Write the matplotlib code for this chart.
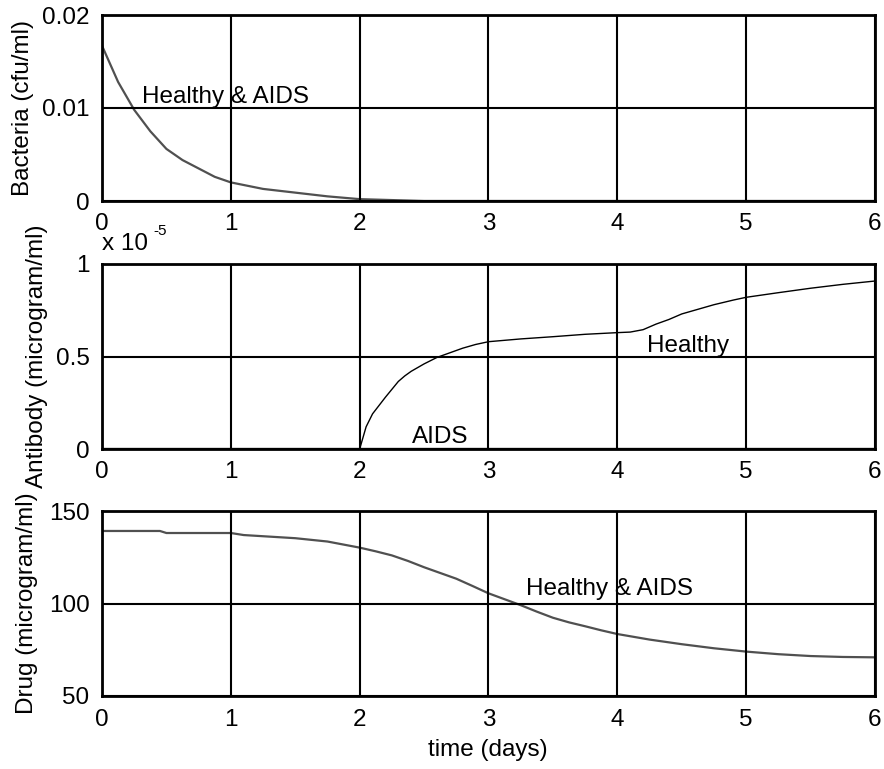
import numpy as np
import matplotlib
matplotlib.use('Agg')
import matplotlib.pyplot as plt

plt.rcParams['font.family'] = ['Liberation Sans', 'DejaVu Sans']

# bacteria (cfu/ml), same for healthy and AIDS
t_bact = [0, 0.125, 0.25, 0.375, 0.5, 0.625, 0.75, 0.875, 1.0, 1.25, 1.5,
          1.75, 2.0, 2.25, 2.5, 6.0]
bacteria = [0.0167, 0.0128, 0.0098, 0.0075, 0.0056, 0.0044, 0.0035, 0.0026,
            0.0020, 0.0013, 0.0009, 0.0005, 0.0002, 0.0001, 0.0, 0.0]

# antibody, in units of 1e-5 microgram/ml
t_ab = [0, 2.0, 2.025, 2.05, 2.1, 2.15, 2.2, 2.3, 2.35, 2.4, 2.45, 2.5, 2.6,
        2.7, 2.8, 2.9, 3.0, 3.25, 3.5, 3.75, 4.0, 4.1, 4.2, 4.3, 4.4, 4.5,
        4.6, 4.75, 4.9, 5.0, 5.25, 5.5, 5.75, 6.0]
ab_healthy = [0, 0, 0.06, 0.12, 0.19, 0.235, 0.28, 0.365, 0.395, 0.42, 0.44,
              0.46, 0.495, 0.52, 0.545, 0.565, 0.58, 0.595, 0.607, 0.62,
              0.629, 0.632, 0.645, 0.675, 0.70, 0.73, 0.75, 0.78, 0.805, 0.82,
              0.845, 0.869, 0.89, 0.908]
t_ab_aids = [0, 6]
ab_aids = [0, 0]

# drug (microgram/ml), same for healthy and AIDS
t_drug = [0, 0.45, 0.5, 1.0, 1.1, 1.5, 1.75, 2.0, 2.125, 2.25, 2.375, 2.5,
          2.625, 2.75, 2.875, 3.0, 3.125, 3.25, 3.375, 3.5, 3.625, 3.75,
          3.875, 4.0, 4.25, 4.5, 4.75, 5.0, 5.25, 5.5, 5.75, 6.0]
drug = [139.2, 139.2, 138.1, 138.1, 137.0, 135.3, 133.5, 130.2, 128.2, 126.0,
        123.0, 119.6, 116.5, 113.4, 109.5, 105.5, 102.3, 99.1, 95.6, 92.3,
        89.8, 87.7, 85.5, 83.5, 80.5, 78.0, 75.8, 74.0, 72.6, 71.6, 71.1, 70.9]

fs = 17.5
grey = '#505050'

fig = plt.figure(figsize=(8.84, 7.69), dpi=100)
left, width = 102 / 884, 773 / 884
ax1 = fig.add_axes([left, 1 - 201 / 769, width, 186 / 769])
ax2 = fig.add_axes([left, 1 - 449 / 769, width, 185 / 769])
ax3 = fig.add_axes([left, 1 - 696 / 769, width, 185 / 769])

ax1.plot(t_bact, bacteria, color=grey, lw=1.6)
ax1.set_ylim(0, 0.02)
ax1.set_yticks([0, 0.01, 0.02])
ax1.set_yticklabels(['0', '0.01', '0.02'])
ax1.text(0.308, 0.0105, 'Healthy & AIDS', fontsize=fs, va='baseline')

ax2.plot(t_ab_aids, ab_aids, color=grey, lw=2.4)
ax2.plot(t_ab, ab_healthy, color='black', lw=1.0)
ax2.set_ylim(0, 1)
ax2.set_yticks([0, 0.5, 1])
ax2.set_yticklabels(['0', '0.5', '1'])
ax2.text(4.229, 0.526, 'Healthy', fontsize=fs, va='baseline')
ax2.text(2.405, 0.031, 'AIDS', fontsize=fs, va='baseline')
ax2.text(0, 1.0757, 'x 10', fontsize=fs, va='baseline', transform=ax2.transAxes)
ax2.text(0.066, 1.155, '-5', fontsize=11, va='baseline', transform=ax2.transAxes)

ax3.plot(t_drug, drug, color=grey, lw=1.6)
ax3.set_ylim(50, 150)
ax3.set_yticks([50, 100, 150])
ax3.text(3.29, 104.6, 'Healthy & AIDS', fontsize=fs, va='baseline')

for ax in (ax1, ax2, ax3):
    ax.set_xlim(0, 6)
    ax.set_xticks(range(7))
    ax.grid(True, color='black', lw=1.5)
    ax.set_axisbelow(False)
    ax.tick_params(length=0, labelsize=fs, pad=9)
    for s in ax.spines.values():
        s.set_linewidth(2.0)

fig.text(23 / 884, 1 - 108 / 769, 'Bacteria (cfu/ml)', rotation=90,
         fontsize=fs, ha='center', va='center')
fig.text(37 / 884, 1 - 356 / 769, 'Antibody (microgram/ml)', rotation=90,
         fontsize=fs, ha='center', va='center')
fig.text(27 / 884, 1 - 603 / 769, 'Drug (microgram/ml)', rotation=90,
         fontsize=fs, ha='center', va='center')
fig.text(488 / 884, 1 - 750 / 769, 'time (days)', fontsize=fs,
         ha='center', va='center')

fig.savefig('out.png', dpi=100)
